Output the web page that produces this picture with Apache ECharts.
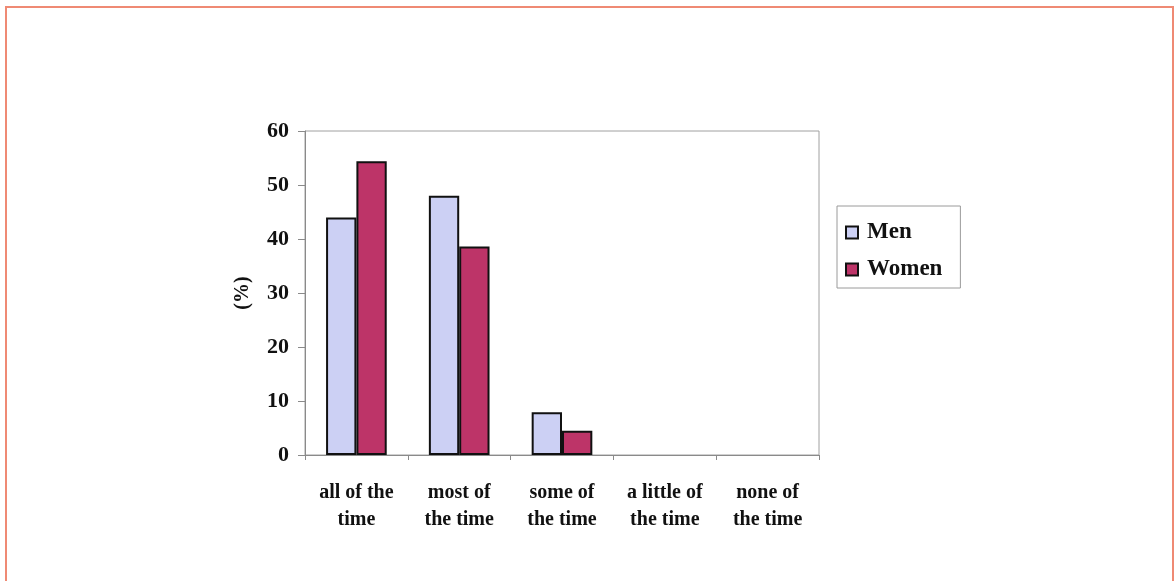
<!DOCTYPE html>
<html>
<head>
<meta charset="utf-8">
<script src="https://cdn.jsdelivr.net/npm/echarts@6/dist/echarts.min.js"></script>
<style>
  html, body { margin: 0; padding: 0; background: #fff; }
  #chart { width: 1176px; height: 581px; }
</style>
</head>
<body>
<div id="chart"></div>
<script>
// How often respondents felt this way, share of each sex (%)
const categories = ['all of the\ntime', 'most of\nthe time', 'some of\nthe time', 'a little of\nthe time', 'none of\nthe time'];
const men = [44.0, 48.0, 7.9, 0, 0];
const women = [54.4, 38.6, 4.5, 0, 0];
const yTicks = { min: 0, max: 60, interval: 10 };

const serif = '"Liberation Serif", "Times New Roman", serif';
const ink = '#111';

// Empty categories get no outlined sliver on the baseline
function outlined(values) {
  return values.map(v => ({ value: v, itemStyle: { borderWidth: v === 0 ? 0 : 2 } }));
}

const chart = echarts.init(document.getElementById('chart'));
chart.setOption({
  animation: false,
  backgroundColor: '#fff',
  graphic: [{
    type: 'rect',
    shape: { x: 6, y: 7, width: 1167, height: 600 },
    style: { fill: 'none', stroke: '#ef8a74', lineWidth: 2 },
    silent: true
  }],
  grid: {
    left: 305, top: 131, right: 357, bottom: 126,
    show: true, borderColor: '#a0a0a0', borderWidth: 1
  },
  legend: {
    orient: 'vertical',
    left: 837, top: 206,
    data: ['Men', 'Women'],
    icon: 'rect',
    itemWidth: 12, itemHeight: 12, itemGap: 14,
    padding: [15, 18, 7, 8],
    borderColor: '#9a9a9a', borderWidth: 1,
    textStyle: { fontFamily: serif, fontWeight: 'bold', fontSize: 23, color: ink, padding: [0, 0, 0, 4], lineHeight: 22 }
  },
  xAxis: {
    type: 'category',
    data: categories,
    axisLine: { lineStyle: { color: '#8a8a8a', width: 1 } },
    axisTick: { show: true, length: 5, alignWithLabel: false, lineStyle: { color: '#8a8a8a' } },
    axisLabel: {
      fontFamily: serif, fontWeight: 'bold', fontSize: 20, color: ink,
      lineHeight: 27, margin: 24, interval: 0
    }
  },
  yAxis: {
    type: 'value',
    min: yTicks.min, max: yTicks.max, interval: yTicks.interval,
    name: '(%)',
    nameLocation: 'middle',
    nameGap: 52,
    nameRotate: 90,
    nameTextStyle: { fontFamily: serif, fontWeight: 'bold', fontSize: 20, color: ink },
    axisLine: { show: true, lineStyle: { color: '#8a8a8a', width: 1 } },
    axisTick: { show: true, length: 7, lineStyle: { color: '#8a8a8a' } },
    axisLabel: { fontFamily: serif, fontWeight: 'bold', fontSize: 22, color: ink, margin: 16 },
    splitLine: { show: false }
  },
  series: [
    {
      name: 'Men', type: 'bar', data: outlined(men),
      barGap: '0%', barCategoryGap: '41%',
      itemStyle: { color: '#ccd0f4', borderColor: '#111', borderWidth: 2 }
    },
    {
      name: 'Women', type: 'bar', data: outlined(women),
      barGap: '0%', barCategoryGap: '41%',
      itemStyle: { color: '#bd3468', borderColor: '#111', borderWidth: 2 }
    }
  ]
});
</script>
</body>
</html>
